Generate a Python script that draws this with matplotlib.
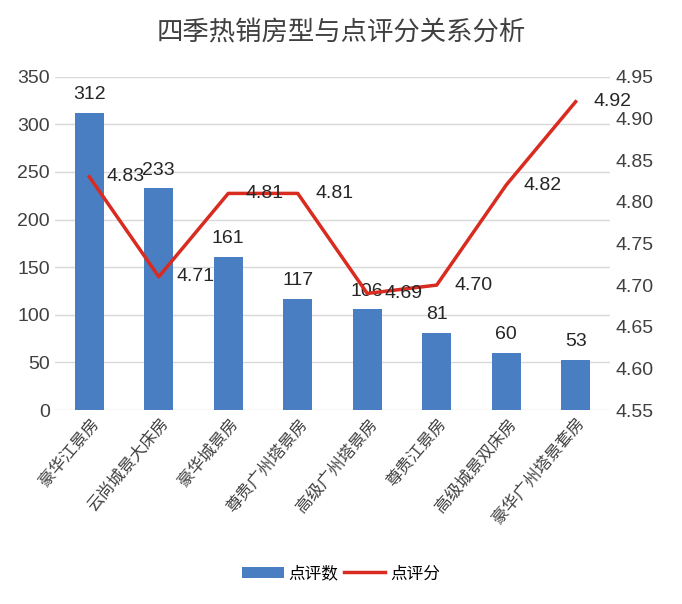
import matplotlib
matplotlib.use("Agg")
import matplotlib.pyplot as plt

plt.rcParams['font.family'] = ['Liberation Sans', 'Noto Sans CJK SC', 'DejaVu Sans']
cjk = ['Noto Sans CJK SC', 'DejaVu Sans']

categories = ["豪华江景房", "云尚城景大床房", "豪华城景房", "尊贵广州塔景房",
              "高级广州塔景房", "尊贵江景房", "高级城景双床房", "豪华广州塔景套房"]
counts = [312, 233, 161, 117, 106, 81, 60, 53]
scores = [4.83, 4.71, 4.81, 4.81, 4.69, 4.70, 4.82, 4.92]

fig = plt.figure(figsize=(6.82, 6.04), dpi=100)
ax = fig.add_axes([0.08, 0.321, 0.815, 0.552])
x = range(len(categories))
ax.bar(x, counts, width=0.42, color='#4A7EC2', label='点评数', zorder=2)
ax.set_ylim(0, 350)
ax.set_yticks(range(0, 351, 50))
ax.grid(axis='y', color='#d9d9d9', linewidth=1, zorder=0)
for s in ax.spines.values():
    s.set_visible(False)
ax.tick_params(length=0, labelsize=14, colors='#404040')
ax.set_xlim(-0.5, len(categories) - 0.5)
ax.set_xticks(list(x))
ax.set_xticklabels(categories, rotation=50, ha='right', rotation_mode='anchor', fontsize=12,
                   color='#404040', family=cjk)
for i, v in enumerate(counts):
    ax.text(i, v + 10, str(v), ha='center', va='bottom', fontsize=14, color='#262626')

ax2 = ax.twinx()
ax2.plot(list(x), scores, color='#D92B20', linewidth=2.5, label='点评分', zorder=3)
ticks2 = [4.55, 4.60, 4.65, 4.70, 4.75, 4.80, 4.85, 4.90, 4.95]
ax2.set_ylim(4.55, 4.95)
ax2.set_yticks(ticks2)
ax2.set_yticklabels([f"{t:.2f}" for t in ticks2])
for s in ax2.spines.values():
    s.set_visible(False)
ax2.tick_params(length=0, labelsize=14, colors='#404040')
for i, v in enumerate(scores):
    ax2.text(i + 0.25, v, f"{v:.2f}", ha='left', va='center', fontsize=14, color='#262626')

h1, l1 = ax.get_legend_handles_labels()
h2, l2 = ax2.get_legend_handles_labels()
fig.legend(h1 + h2, l1 + l2, loc='center', bbox_to_anchor=(0.5, 0.05), ncol=2,
           frameon=False, prop={'family': cjk, 'size': 12}, handlelength=2.5,
           columnspacing=0.3, handletextpad=0.3)
fig.text(0.5, 0.945, "四季热销房型与点评分关系分析", ha='center', va='center', fontsize=19,
         color='#404040', family=cjk)
fig.savefig("out.png", dpi=100)
